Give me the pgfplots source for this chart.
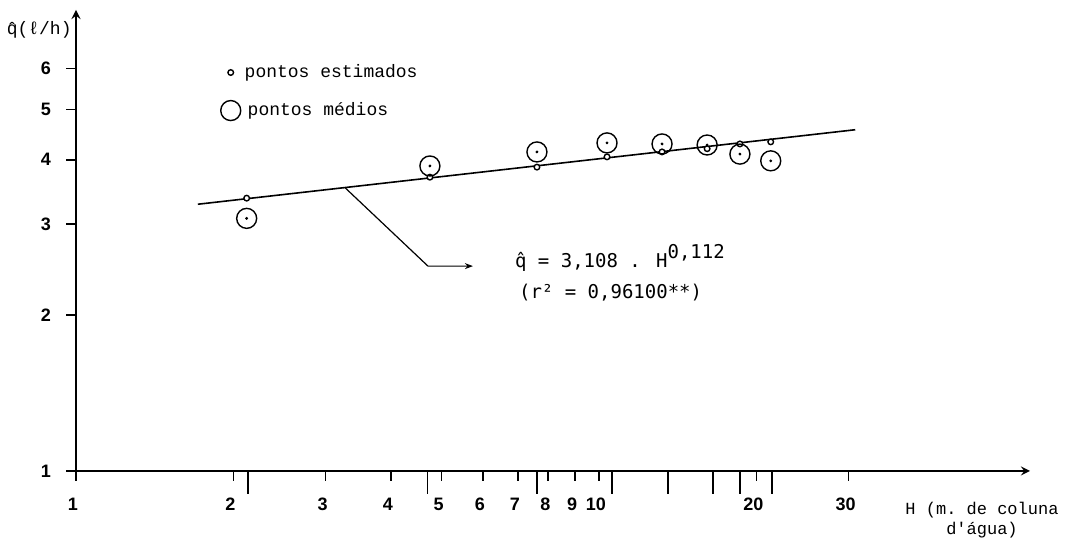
\documentclass[border=0pt]{standalone}
\usepackage{fontspec}
\setmainfont{Liberation Sans}
\setmonofont{Liberation Mono}
\newfontfamily\sansmono{DejaVu Sans Mono}
\usepackage{pgfplots}
\pgfplotsset{compat=1.18}
\usetikzlibrary{arrows.meta}

\pgfplotstableread{
H     q
2.12  3.37
4.75  3.70
7.61  3.87
10.36 4.05
13.2  4.14
16.1  4.20
18.6  4.29
21.3  4.33
}\estimados

\pgfplotstableread{
H     q
2.12  3.08
4.75  3.89
7.61  4.14
10.36 4.31
13.2  4.29
16.1  4.27
18.6  4.10
21.3  3.98
}\medios

\begin{document}
\begin{tikzpicture}[x=1pt,y=1pt]
\useasboundingbox (0,0) rectangle (536.5,272);
\begin{axis}[
  at={(38pt,36.5pt)}, anchor=south west,
  scale only axis, width=477pt, height=230.5pt,
  xmode=log, ymode=log,
  xmin=1, xmax=66.7, ymin=1, ymax=7.79,
  axis lines=left,
  axis line style={line width=1pt},
  tick align=outside,
  major tick length=5pt,
  tick style={line width=0.9pt, black},
  xtick={1,2,3,4,5,6,7,8,9,10,20,30},
  xticklabels={1,2,3,4,5,6,7,8,9,10,20,30},
  ytick={1,2,3,4,5,6},
  yticklabels={1,2,3,4,5,6},
  minor xtick={}, minor ytick={},
  extra x ticks={2.13,4.70,7.61,10.6,13.55,16.5,18.6,21.4},
  extra x tick labels={},
  extra x tick style={major tick length=11.5pt},
  ticklabel style={font=\bfseries\fontsize{9}{10}\selectfont},
  xticklabel style={yshift=-5pt, xshift=-1.5pt},
  yticklabel style={xshift=-4pt},
  legend style={draw=none, fill=none, at={(rel axis cs:0.145,0.900)}, anchor=north west,
    font=\ttfamily\fontsize{9}{10}\selectfont, row sep=7pt},
  legend cell align=left,
]
\addplot[no markers, line width=0.8pt, forget plot] coordinates {(1.71,3.28) (30.9,4.57)};
\addplot[no markers, line width=0.6pt, forget plot, -{Stealth[length=4pt,width=3pt]}]
  coordinates {(3.27,3.53) (4.71,2.49) (5.74,2.49)};
\addplot[only marks, mark=*, mark size=1.4pt, mark options={fill=white, line width=0.7pt}]
  table[x=H,y=q] {\estimados};
\addlegendentry{pontos estimados}
\addplot[only marks, mark=o, mark size=5pt, mark options={line width=0.7pt}]
  table[x=H,y=q] {\medios};
\addlegendentry{\,pontos médios}
\addplot[only marks, mark=*, mark size=0.5pt, forget plot] table[x=H,y=q] {\medios};
\end{axis}
\node[anchor=base west, font=\sansmono\fontsize{9.5}{11}\selectfont] at (254,138)
  {\^q = 3,108 . H\raisebox{4.5pt}{0,112}};
\node[anchor=base west, font=\sansmono\fontsize{9.5}{11}\selectfont] at (256,122.5)
  {(r² = 0,96100**)};
\node[anchor=base east, inner sep=0pt, font=\ttfamily\fontsize{9}{10}\selectfont] at (36,254.5)
  {\^q(ℓ/h)};
\node[align=center, font=\ttfamily\fontsize{8.5}{10}\selectfont] at (491,12)
  {H (m. de coluna\\d'água)};
\end{tikzpicture}
\end{document}
